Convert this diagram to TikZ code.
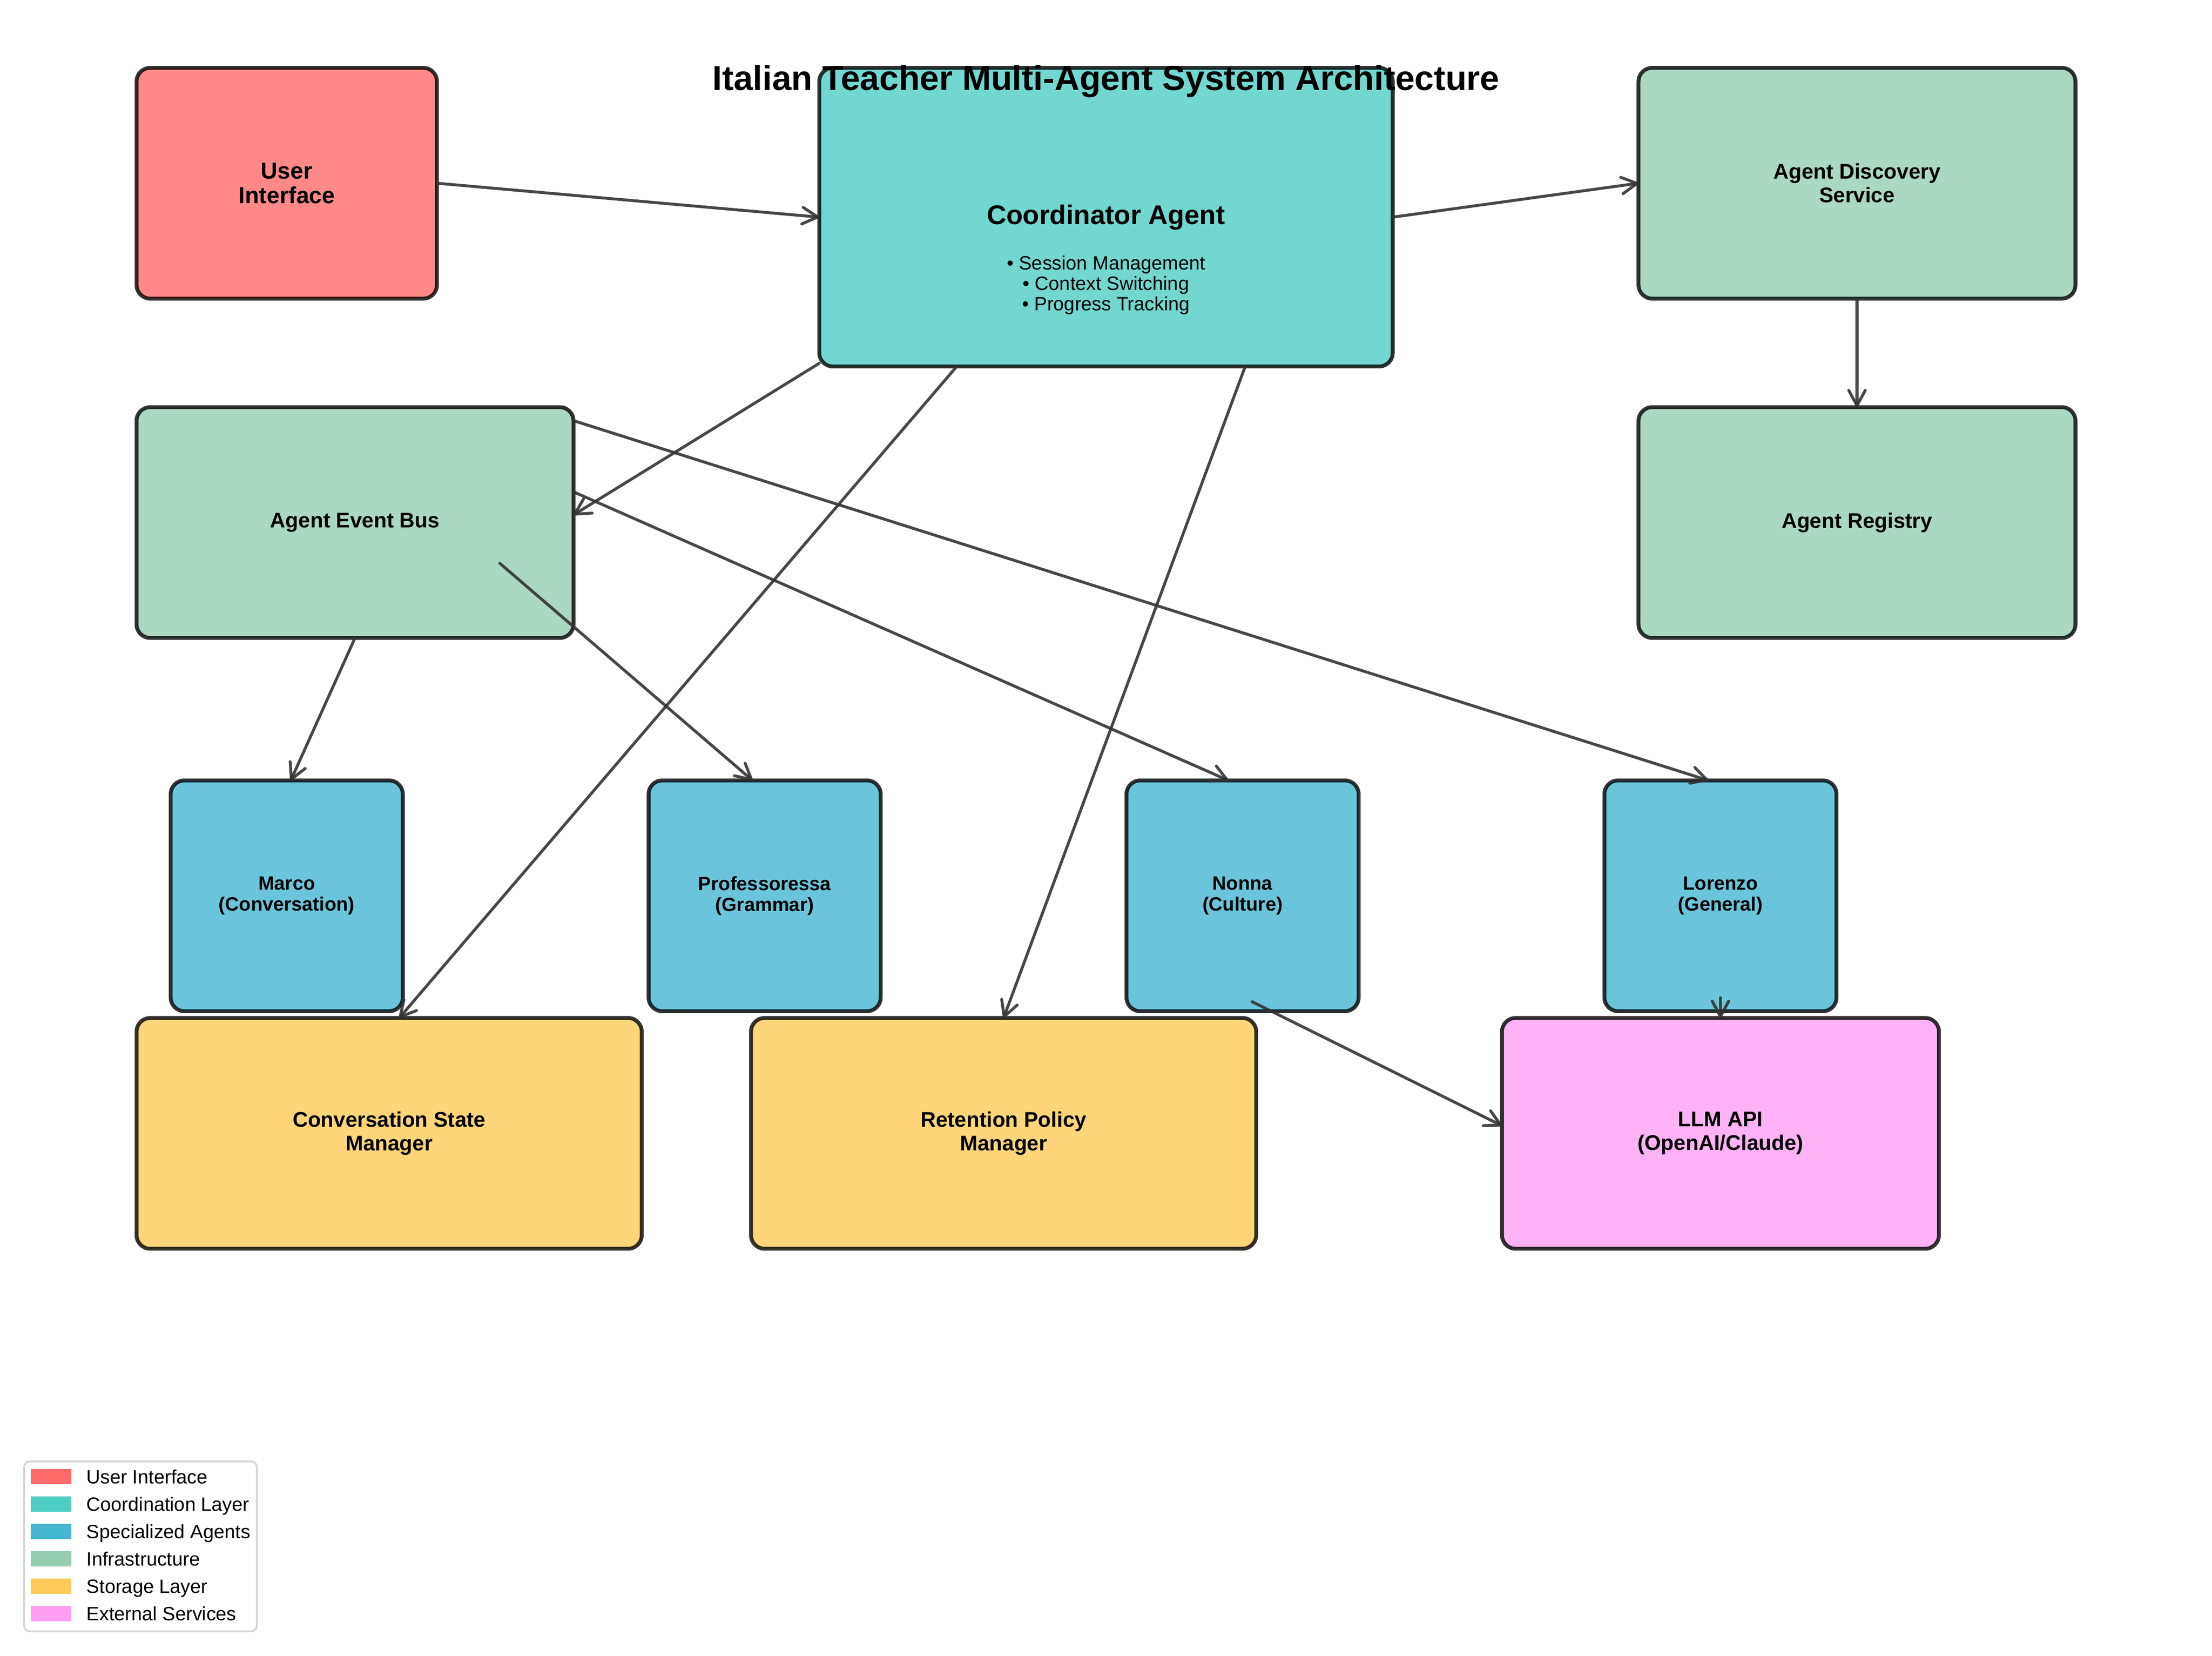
\documentclass[tikz,border=0pt]{standalone}
\usepackage{fontspec}
\setmainfont{Liberation Sans}
\usetikzlibrary{arrows.meta,calc,positioning}
\definecolor{uired}{HTML}{FF6B6B}
\definecolor{coordteal}{HTML}{4ECDC4}
\definecolor{agentblue}{HTML}{45B7D1}
\definecolor{infragreen}{HTML}{96CEB4}
\definecolor{storageyellow}{HTML}{FECA57}
\definecolor{extpink}{HTML}{FF9FF3}
\definecolor{keyframe}{HTML}{D6D6D6}
\begin{document}
\begin{tikzpicture}[x=2.493cm,y=2.4775cm,
        >={Straight Barb[length=8pt,width=8.6pt,round]},
        box/.style={draw=black,line width=2pt,rounded corners=2.49mm,fill opacity=0.8,draw opacity=0.8,text opacity=1,
            inner sep=0pt,outer sep=0pt,align=center,minimum height=4.212cm,font=\bfseries\fontsize{11}{12.3}\selectfont},
        uibox/.style={box,fill=uired,minimum width=5.485cm,font=\bfseries\fontsize{12}{12.9}\selectfont},
        coordbox/.style={box,fill=coordteal,minimum width=10.471cm,minimum height=5.451cm,font=\bfseries\fontsize{14}{16}\selectfont},
        infrabox/.style={box,fill=infragreen,minimum width=7.978cm},
        agentbox/.style={box,fill=agentblue,minimum width=4.238cm,font=\bfseries\fontsize{10}{10.7}\selectfont},
        storebox/.style={box,fill=storageyellow,minimum width=9.224cm,font=\bfseries\fontsize{11}{12.5}\selectfont},
        extbox/.style={box,fill=extpink,minimum width=7.978cm},
        flow/.style={->,line width=1.5pt,draw=black!80,draw opacity=0.9,line cap=round},
        keypatch/.style={inner sep=0pt,outer sep=0pt,minimum width=0.738cm,minimum height=0.274cm},
        keytext/.style={inner sep=0pt,outer sep=0pt,text height=7.2pt,text depth=0pt,font=\fontsize{10}{12}\selectfont}]
    \useasboundingbox (-0.1,-0.1) rectangle (16.1,12.1);
    % top row
    \node[uibox] (ui) at (2,10.75) {User\\Interface};
    \node[coordbox] (coord) at (8,10.5) {Coordinator Agent};
    \node[align=center,inner sep=0pt,font=\fontsize{10}{10.6}\selectfont] (coordtasks) at ($(coord.center)+(0,-0.5)$)
        {• Session Management\\• Context Switching\\• Progress Tracking};
    \node[infrabox] (disc) at (13.5,10.75) {Agent Discovery\\Service};
    % infrastructure
    \node[infrabox] (bus) at (2.5,8.25) {Agent Event Bus};
    \node[infrabox] (reg) at (13.5,8.25) {Agent Registry};
    % agents
    \node[agentbox] (marco) at (2,5.5) {Marco\\(Conversation)};
    \node[agentbox] (prof) at (5.5,5.5) {Professoressa\\(Grammar)};
    \node[agentbox] (nonna) at (9,5.5) {Nonna\\(Culture)};
    \node[agentbox] (lor) at (12.5,5.5) {Lorenzo\\(General)};
    % storage and external
    \node[storebox] (conv) at (2.75,3.75) {Conversation State\\Manager};
    \node[storebox] (ret) at (7.25,3.75) {Retention Policy\\Manager};
    \node[extbox] (llm) at (12.5,3.75) {LLM API\\(OpenAI/Claude)};
    % connections
    \draw[flow] (ui.east) -- (coord.west);
    \draw[flow] (coord.east) -- (disc.west);
    \draw[flow] (disc.south) -- (reg.north);
    \draw[flow] (coord.207) -- (bus.2);
    \draw[flow] (coord.225) -- (conv.85);
    \draw[flow] (coord.313) -- (ret.north);
    \draw[flow] (bus.south) -- (marco.88);
    \draw[flow] ($(bus.center)+(1.06,-0.3)$) -- (prof.96);
    \draw[flow] (bus.8) -- (nonna.97);
    \draw[flow] (bus.25) -- (lor.96);
    \draw[flow] ($(nonna.south)+(0.07,0.07)$) -- (llm.178);
    \draw[flow] ($(lor.south)+(0,0.1)$) -- (llm.north);
    % legend
    \draw[draw=keyframe,fill=white,line width=1pt,rounded corners=3pt] (0.077,0.081) rectangle (1.781,1.333);
    \foreach \col/\name [count=\i from 0] in {uired/User Interface,coordteal/Coordination Layer,agentblue/Specialized Agents,
            infragreen/Infrastructure,storageyellow/Storage Layer,extpink/External Services}{
        \node[keypatch,fill=\col] (key\i) at (0.275,1.221-0.2018*\i) {};
        \node[keytext,right=0.278cm of key\i] (keytext\i) {\name};
    }
    \node[font=\bfseries\fontsize{18}{21.6}\selectfont] (title) at (8,11.5) {Italian Teacher Multi-Agent System Architecture};
\end{tikzpicture}
\end{document}
